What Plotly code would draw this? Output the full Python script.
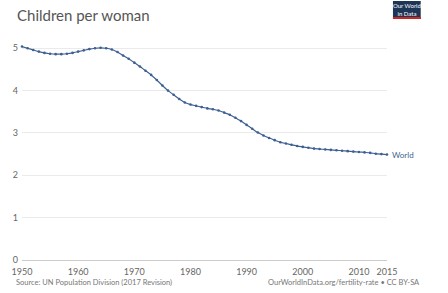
import plotly.graph_objects as go

years = list(range(1950, 2016))
world = [5.04, 5.00, 4.96, 4.92, 4.89, 4.87, 4.86, 4.86, 4.87, 4.89,
         4.92, 4.95, 4.98, 5.00, 5.01, 5.00, 4.97, 4.91, 4.83, 4.75,
         4.66, 4.57, 4.47, 4.37, 4.25, 4.12, 4.00, 3.90, 3.80, 3.72,
         3.67, 3.64, 3.61, 3.58, 3.56, 3.53, 3.48, 3.43, 3.36, 3.28,
         3.19, 3.10, 3.01, 2.94, 2.88, 2.83, 2.78, 2.75, 2.72, 2.69,
         2.67, 2.65, 2.63, 2.62, 2.61, 2.60, 2.59, 2.58, 2.57, 2.56,
         2.55, 2.54, 2.53, 2.51, 2.50, 2.49]
x_ticks = [1950, 1960, 1970, 1980, 1990, 2000, 2010, 2015]
y_ticks = [0, 1, 2, 3, 4, 5]

W, H = 448, 293
L, R, T, B = 19, 61, 44, 33
pw, ph = W - L - R, H - T - B

def px_x(p):
    return (p - L) / pw

def px_y(p):
    return (H - B - p) / ph

line_color = "#3d5f92"
font = "Lato, 'Open Sans', sans-serif"

fig = go.Figure()
fig.add_trace(go.Scatter(
    x=years, y=world, mode="lines+markers", name="World",
    line=dict(color=line_color, width=1.2, shape="spline", smoothing=0.6),
    marker=dict(color=line_color, size=2.6),
    cliponaxis=False, showlegend=False,
))

fig.add_annotation(x=years[-1], y=world[-1], text="World", showarrow=False,
                   xanchor="left", yanchor="middle", xshift=3,
                   font=dict(family=font, size=8, color=line_color))

fig.update_layout(
    width=W, height=H,
    margin=dict(l=L, r=R, t=T, b=B, pad=0),
    paper_bgcolor="white", plot_bgcolor="white",
    font=dict(family=font, color="#666"),
    xaxis=dict(range=[1950, 2015], tickvals=x_ticks, ticktext=[str(v) for v in x_ticks],
               showgrid=False, zeroline=False, showline=True, linecolor="#ccc", linewidth=1,
               ticks="", ticklabelstandoff=3, tickfont=dict(size=9, color="#666")),
    yaxis=dict(range=[0, 5.1], tickvals=y_ticks, showgrid=True, gridcolor="#eaeaea",
               gridwidth=1, zeroline=False, showline=False, ticks="",
               ticklabelstandoff=3,
               tickfont=dict(size=9, color="#666")),
)

fig.add_annotation(xref="paper", yref="paper", x=px_x(12), y=px_y(15),
                   text="Children per woman", showarrow=False, xanchor="left", yanchor="middle",
                   font=dict(family=font, size=15, color="#555"))

fig.add_annotation(xref="paper", yref="paper", x=px_x(11), y=px_y(282),
                   text="Source: UN Population Division (2017 Revision)", showarrow=False,
                   xanchor="left", yanchor="middle", font=dict(family=font, size=7.5, color="#777"))
fig.add_annotation(xref="paper", yref="paper", x=px_x(422), y=px_y(282),
                   text="OurWorldInData.org/fertility-rate • CC BY-SA", showarrow=False,
                   xanchor="right", yanchor="middle", font=dict(family=font, size=7.5, color="#777"))

# logo
fig.add_shape(type="rect", xref="paper", yref="paper", x0=px_x(393), x1=px_x(421),
              y0=px_y(19), y1=px_y(1), fillcolor="#1d3557", line=dict(width=0), layer="above")
fig.add_shape(type="rect", xref="paper", yref="paper", x0=px_x(393), x1=px_x(421),
              y0=px_y(19), y1=px_y(17), fillcolor="#ce261e", line=dict(width=0), layer="above")
fig.add_annotation(xref="paper", yref="paper", x=px_x(407), y=px_y(9),
                   text="Our World<br>in Data", showarrow=False, xanchor="center", yanchor="middle",
                   font=dict(family=font, size=6, color="white"))

fig.write_html("out.html")
